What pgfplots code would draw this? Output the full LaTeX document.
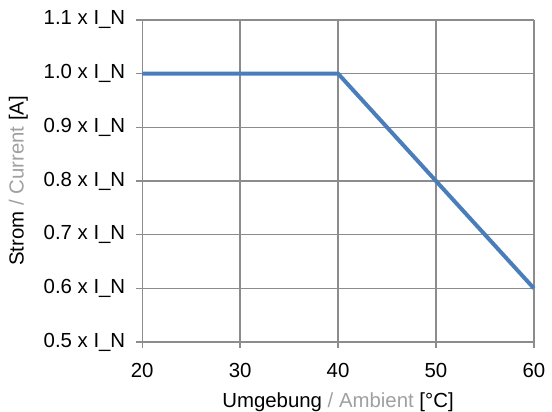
\documentclass[border=0pt]{standalone}
\usepackage{fontspec}
\setmainfont{Liberation Sans}
\usepackage{pgfplots}
\pgfplotsset{compat=1.18}
\definecolor{linie}{HTML}{4A7EBB}
\definecolor{gitter}{HTML}{8C8C8C}
\definecolor{grautext}{HTML}{A0A0A0}
\begin{document}
\fontsize{20.5}{24}\selectfont
\begin{tikzpicture}
\begin{axis}[
    scale only axis,
    width=394pt, height=324pt,
    xmin=20, xmax=60, ymin=0.5, ymax=1.1,
    xtick={20,30,...,60},
    ytick={0.5,0.6,...,1.1},
    yticklabel={\pgfmathprintnumber[fixed,fixed zerofill,precision=1]{\tick} x I\_N},
    /pgf/number format/assume math mode=true,
    grid=major,
    grid style={gitter, line width=1.3pt},
    axis line style={gitter, line width=1.3pt},
    axis x line*=bottom, axis y line*=left,
    tick style={gitter, line width=1.3pt},
    tick align=outside,
    major tick length=6pt,
    tick label style={font=\fontsize{20.5}{24}\selectfont, black},
    xticklabel style={yshift=-8pt},
    yticklabel style={xshift=-4pt},
    xlabel={Umgebung \textcolor{grautext}{/ Ambient} [°C]},
    ylabel={Strom \textcolor{grautext}{/ Current} [A]},
    label style={font=\fontsize{20.5}{24}\selectfont, inner sep=0pt},
    xlabel style={yshift=-8pt},
    ylabel style={yshift=9pt},
    clip=false,
]
\addplot[linie, line width=4pt, line join=round] coordinates {
    (20,1.0) (40,1.0) (60,0.6)
};
\end{axis}
\path ([shift={(-143pt,-68pt)}]current axis.south west) rectangle ([shift={(15pt,20pt)}]current axis.north east);
\end{tikzpicture}
\end{document}
